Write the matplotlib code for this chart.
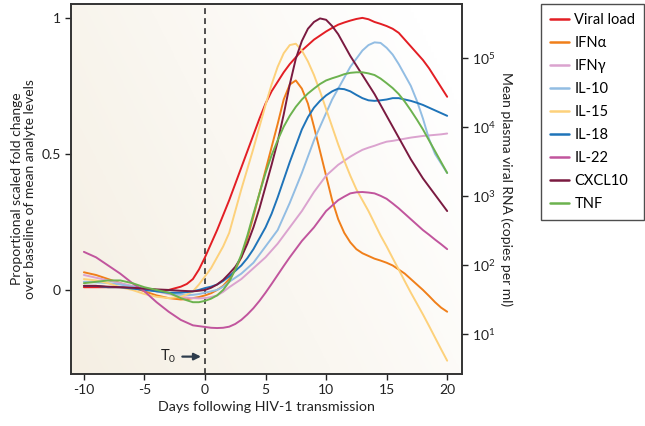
import numpy as np
import matplotlib
matplotlib.use("Agg")
import matplotlib.pyplot as plt
from matplotlib.colors import LinearSegmentedColormap

plt.rcParams['font.family'] = ['Lato', 'DejaVu Sans']
plt.rcParams['mathtext.fontset'] = 'custom'
plt.rcParams['mathtext.rm'] = 'Lato'
plt.rcParams['mathtext.it'] = 'Lato'
plt.rcParams['axes.unicode_minus'] = False

# days: integer steps early on, half-day steps from day -2
days = [-10, -9, -8, -7, -6, -5, -4, -3,
        -2, -1.5, -1, -0.5,
        0, 0.5, 1, 1.5, 2, 2.5, 3, 3.5, 4, 4.5,
        5, 5.5, 6, 6.5, 7, 7.5, 8, 8.5, 9, 9.5,
        10, 10.5, 11, 11.5, 12, 12.5, 13, 13.5, 14, 14.5,
        15, 15.5, 16, 16.5, 17, 17.5, 18, 18.5, 19, 19.5,
        20]

viral_load = [0.01, 0.01, 0.01, 0.01, 0.008, 0.005, 0.0, 0.0,
              0.012, 0.022, 0.04, 0.075,
              0.12, 0.17, 0.22, 0.275, 0.33, 0.39, 0.45, 0.51, 0.57, 0.63,
              0.685, 0.73, 0.765, 0.80, 0.83, 0.855, 0.88, 0.90, 0.92, 0.935,
              0.95, 0.963, 0.975, 0.983, 0.99, 0.996, 1.0, 0.995, 0.985, 0.978,
              0.97, 0.96, 0.945, 0.92, 0.895, 0.87, 0.845, 0.815, 0.78, 0.745,
              0.71]
ifn_alpha = [0.065, 0.055, 0.04, 0.025, 0.01, -0.005, -0.02, -0.03,
             -0.035, -0.034, -0.03, -0.026,
             -0.02, -0.012, 0.0, 0.015, 0.04, 0.075, 0.12, 0.19, 0.27, 0.355,
             0.44, 0.525, 0.61, 0.70, 0.755, 0.77, 0.74, 0.685, 0.60, 0.51,
             0.42, 0.33, 0.26, 0.21, 0.175, 0.15, 0.135, 0.125, 0.115, 0.108,
             0.10, 0.09, 0.075, 0.06, 0.04, 0.02, 0.0, -0.022, -0.045, -0.065,
             -0.08]
ifn_gamma = [0.055, 0.045, 0.035, 0.025, 0.015, 0.005, -0.005, -0.015,
             -0.025, -0.028, -0.03, -0.031,
             -0.03, -0.026, -0.02, -0.007, 0.01, 0.025, 0.04, 0.06, 0.08, 0.10,
             0.12, 0.145, 0.17, 0.20, 0.23, 0.26, 0.29, 0.325, 0.36, 0.39,
             0.42, 0.44, 0.46, 0.475, 0.49, 0.503, 0.515, 0.523, 0.53, 0.538,
             0.545, 0.548, 0.552, 0.556, 0.56, 0.563, 0.566, 0.568, 0.57, 0.572,
             0.575]
il10 = [0.03, 0.028, 0.025, 0.02, 0.012, 0.005, -0.005, -0.012,
        -0.018, -0.019, -0.018, -0.015,
        -0.01, -0.005, 0.0, 0.012, 0.03, 0.045, 0.06, 0.08, 0.10, 0.13,
        0.16, 0.19, 0.22, 0.27, 0.32, 0.375, 0.43, 0.49, 0.55, 0.60,
        0.65, 0.70, 0.74, 0.78, 0.82, 0.85, 0.88, 0.90, 0.91, 0.908,
        0.89, 0.865, 0.83, 0.79, 0.75, 0.695, 0.63, 0.555, 0.50, 0.465,
        0.43]
il15 = [0.04, 0.035, 0.025, 0.01, 0.0, -0.015, -0.025, -0.03,
        -0.025, -0.017, -0.005, 0.02,
        0.05, 0.08, 0.12, 0.16, 0.21, 0.29, 0.37, 0.445, 0.52, 0.60,
        0.68, 0.755, 0.82, 0.87, 0.90, 0.905, 0.88, 0.84, 0.79, 0.73,
        0.665, 0.60, 0.535, 0.475, 0.42, 0.37, 0.33, 0.29, 0.245, 0.20,
        0.16, 0.117, 0.075, 0.032, -0.01, -0.05, -0.09, -0.132, -0.175, -0.218,
        -0.26]
il18 = [0.015, 0.015, 0.01, 0.01, 0.005, 0.0, -0.005, -0.01,
        -0.01, -0.008, -0.005, 0.0,
        0.007, 0.012, 0.02, 0.033, 0.05, 0.07, 0.09, 0.117, 0.15, 0.19,
        0.23, 0.28, 0.34, 0.405, 0.47, 0.53, 0.59, 0.635, 0.67, 0.695,
        0.715, 0.73, 0.74, 0.738, 0.73, 0.717, 0.705, 0.697, 0.695, 0.697,
        0.70, 0.705, 0.705, 0.70, 0.695, 0.688, 0.68, 0.67, 0.66, 0.65,
        0.64]
il22 = [0.14, 0.12, 0.09, 0.06, 0.025, -0.005, -0.045, -0.08,
        -0.11, -0.12, -0.13, -0.133,
        -0.136, -0.139, -0.14, -0.139, -0.135, -0.125, -0.11, -0.09, -0.067, -0.04,
        -0.01, 0.022, 0.055, 0.088, 0.12, 0.15, 0.18, 0.205, 0.23, 0.26,
        0.29, 0.31, 0.33, 0.343, 0.355, 0.359, 0.36, 0.358, 0.355, 0.346,
        0.335, 0.318, 0.30, 0.28, 0.26, 0.24, 0.22, 0.203, 0.185, 0.168,
        0.15]
cxcl10 = [0.015, 0.015, 0.012, 0.01, 0.008, 0.005, 0.002, 0.0,
          -0.003, -0.004, -0.005, -0.003,
          0.0, 0.008, 0.02, 0.037, 0.06, 0.085, 0.12, 0.17, 0.23, 0.30,
          0.38, 0.46, 0.545, 0.645, 0.755, 0.85, 0.915, 0.96, 0.985, 0.998,
          0.993, 0.97, 0.94, 0.90, 0.86, 0.825, 0.79, 0.755, 0.72, 0.68,
          0.64, 0.60, 0.56, 0.52, 0.48, 0.445, 0.41, 0.38, 0.35, 0.32,
          0.29]
tnf = [0.025, 0.03, 0.035, 0.035, 0.025, 0.01, 0.0, -0.01,
       -0.03, -0.038, -0.045, -0.045,
       -0.04, -0.032, -0.02, 0.0, 0.03, 0.075, 0.13, 0.20, 0.28, 0.355,
       0.43, 0.495, 0.55, 0.60, 0.64, 0.673, 0.70, 0.722, 0.74, 0.757,
       0.77, 0.778, 0.785, 0.793, 0.798, 0.80, 0.80, 0.796, 0.79, 0.777,
       0.76, 0.742, 0.72, 0.692, 0.66, 0.626, 0.59, 0.55, 0.51, 0.47,
       0.43]

labels = ['Viral load', 'IFNα', 'IFNγ', 'IL-10', 'IL-15', 'IL-18', 'IL-22', 'CXCL10', 'TNF']
colors = ['#e31e24', '#f07f1a', '#dba3cf', '#92bde3', '#fdd17b', '#1f74b9', '#c1559d', '#7a1a40', '#6cb24f']
series = [viral_load, ifn_alpha, ifn_gamma, il10, il15, il18, il22, cxcl10, tnf]

left_ticks = [0, 0.5, 1]
left_ticklabels = ['0', '0.5', '1']
x_ticks = [-10, -5, 0, 5, 10, 15, 20]
right_ticks = [1e1, 1e2, 1e3, 1e4, 1e5]
right_ticklabels = ['$10^{1}$', '$10^{2}$', '$10^{3}$', '$10^{4}$', '$10^{5}$']

fig = plt.figure(figsize=(6.45, 4.26), dpi=100)
ax = fig.add_axes([0.110, 0.122, 0.606, 0.8686])
xmin, xmax = -11.07, 21.21
ymin, ymax = -0.309, 1.051
ax.set_xlim(xmin, xmax)
ax.set_ylim(ymin, ymax)

# background gradient
cmap = LinearSegmentedColormap.from_list('bg', ['#f5efe3', '#faf7f1', '#ffffff'])
gx = np.linspace(0, 1, 256)
gy = np.linspace(0, 1, 64)
GX, GY = np.meshgrid(gx, gy)
grad = np.clip(0.75 * GX + 0.35 * GY, 0, 1)
ax.imshow(grad, extent=[xmin, xmax, ymin, ymax], origin='lower', aspect='auto',
          cmap=cmap, zorder=0, interpolation='bilinear')

for vals, lab, col in zip(series, labels, colors):
    ax.plot(days, vals, color=col, lw=1.4, label=lab, zorder=3,
            solid_capstyle='round', solid_joinstyle='round')

ax.axvline(0, color='#333333', lw=1.2, ls=(0, (3.5, 2.5)), zorder=2)

ax.annotate('', xy=(-0.1, -0.245), xytext=(-2.1, -0.245),
            arrowprops=dict(arrowstyle='-|>', color='#2e3d4d', lw=1.6, mutation_scale=10))
ax.text(-2.35, -0.245, 'T$_0$', ha='right', va='center', fontsize=10.5, color='#222222')

ax.set_xticks(x_ticks)
ax.set_yticks(left_ticks)
ax.set_yticklabels(left_ticklabels)
ax.tick_params(axis='both', direction='out', length=4, width=1, labelsize=10, colors='#222222')
ax.set_xlabel('Days following HIV-1 transmission', fontsize=10.3, color='#222222', labelpad=3)
ax.set_ylabel('Proportional scaled fold change\nover baseline of mean analyte levels',
              fontsize=10, color='#222222', labelpad=4, linespacing=1.1)
for s in ax.spines.values():
    s.set_color('#333333')
    s.set_linewidth(1.2)

ax2 = ax.twinx()
ax2.set_yscale('log')
ax2.set_ylim(10 ** 0.423, 10 ** 5.777)
ax2.set_yticks(right_ticks)
ax2.set_yticklabels(right_ticklabels)
ax2.yaxis.set_minor_locator(matplotlib.ticker.NullLocator())
ax2.tick_params(axis='y', direction='out', length=4, width=1, labelsize=10, colors='#222222')
ax2.set_ylabel('Mean plasma viral RNA (copies per ml)', rotation=270, fontsize=10,
               color='#222222', labelpad=12)
for s in ax2.spines.values():
    s.set_color('#333333')
    s.set_linewidth(1.2)

handles, labs = ax.get_legend_handles_labels()
leg = fig.legend(handles, labs, loc='upper left', bbox_to_anchor=(0.838, 0.9906),
                 frameon=True, fancybox=False, edgecolor='#222222', fontsize=10.5,
                 handlelength=1.3, handletextpad=0.4, labelspacing=0.62,
                 borderpad=0.62, borderaxespad=0)
leg.get_frame().set_linewidth(1.0)
for line in leg.get_lines():
    line.set_linewidth(1.8)

fig.savefig('out.png', dpi=100)
